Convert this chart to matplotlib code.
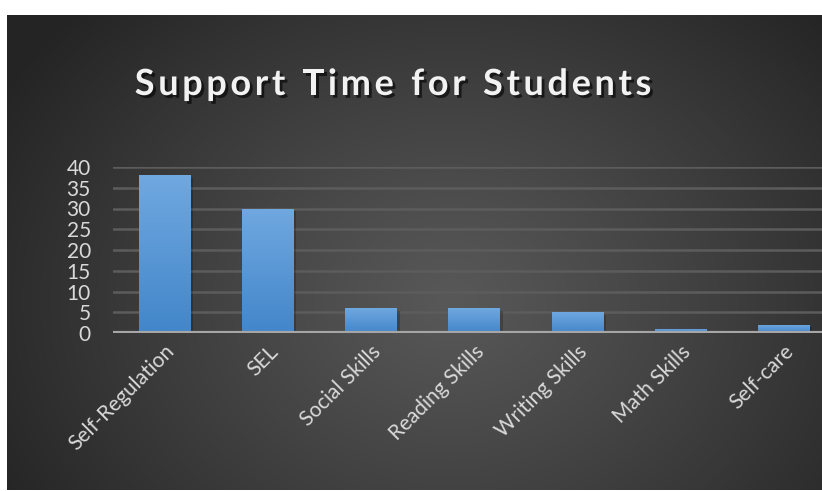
import numpy as np
import matplotlib
matplotlib.use("Agg")
import matplotlib.pyplot as plt
import matplotlib.patheffects as pe

categories = ["Self-Regulation", "SEL", "Social Skills", "Reading Skills",
              "Writing Skills", "Math Skills", "Self-care"]
values = [38, 30, 6, 6, 5, 1, 2]
yticks = [0, 5, 10, 15, 20, 25, 30, 35, 40]
title = "Support Time for Students"

W, H = 822, 491
fig = plt.figure(figsize=(W / 100, H / 100), dpi=100)
fig.patch.set_facecolor("white")

# dark radial-gradient background panel
bx0, by0, bx1, by1 = 7, 15, 822, 490
bg = fig.add_axes([bx0 / W, 1 - by1 / H, (bx1 - bx0) / W, (by1 - by0) / H])
bg.set_axis_off()
yy, xx = np.mgrid[by0:by1, bx0:bx1]
cx, cy = 450, 300
r = np.sqrt(((xx - cx) / 520.0) ** 2 + ((yy - cy) / 420.0) ** 2)
v = 88 - (88 - 36) * np.clip(r, 0, 1) ** 1.1
img = np.dstack([v, v, v]) / 255.0
bg.imshow(img, aspect="auto", extent=[0, 1, 0, 1], origin="upper")
bg.set_xlim(0, 1)
bg.set_ylim(0, 1)

# plot axes
left_px, base_px, top_px = 113, 333, 167
step = 103.2
ax = fig.add_axes([left_px / W, 1 - base_px / H, 7 * step / W, (base_px - top_px) / H])
ax.set_facecolor("none")

x = np.arange(len(categories))
bars = ax.bar(x, values, width=0.5, color="#5b9bd5", zorder=3,
              path_effects=[pe.SimplePatchShadow(offset=(2, -2), shadow_rgbFace="black", alpha=0.2),
                            pe.Normal()])
grad = np.linspace(0, 1, 256).reshape(-1, 1)
top_c = np.array([112, 168, 224]) / 255.0
bot_c = np.array([66, 134, 202]) / 255.0
gimg = top_c[None, None, :] * (1 - grad[:, :, None]) + bot_c[None, None, :] * grad[:, :, None]
for b in bars:
    im = ax.imshow(gimg, extent=[b.get_x(), b.get_x() + b.get_width(), 0, b.get_height()],
                   aspect="auto", origin="upper", zorder=4)
    im.set_clip_path(b)
ax.set_xlim(-0.5, len(categories) - 0.5)
ax.set_ylim(0, 40)

for t in yticks[1:]:
    ax.axhline(t, color="#5c5c5c", lw=1.8, zorder=1)
ax.axhline(0, color="#a6a6a6", lw=3, zorder=5)

for s in ax.spines.values():
    s.set_visible(False)
ax.set_yticks(yticks)
ax.set_xticks(x)
ax.set_xticklabels(categories, rotation=45, ha="right", rotation_mode="anchor",
                   fontsize=15, color="#d9d9d9", family="Lato")
ax.set_yticklabels([str(t) for t in yticks], fontsize=15, color="#d9d9d9", family="Lato")
ax.tick_params(axis="both", length=0)
ax.tick_params(axis="y", pad=16)
ax.tick_params(axis="x", pad=6)

# title with letter spacing, drawn char by char
fig.canvas.draw()
renderer = fig.canvas.get_renderer()
fs = 26
spacing = 3.6  # extra px between letters
shadow = [pe.withSimplePatchShadow(offset=(2, -2), shadow_rgbFace="black", alpha=0.6)]
widths = []
for ch in title:
    t = fig.text(0, 0, ch if ch != " " else "n", fontsize=fs, fontweight="bold", family="Lato")
    wpx = t.get_window_extent(renderer).width
    if ch == " ":
        wpx *= 0.5
    widths.append(wpx)
    t.remove()
total = sum(widths) + spacing * (len(title) - 1)
xc = 393
xpos = xc - total / 2
for ch, wpx in zip(title, widths):
    if ch != " ":
        fig.text(xpos / W, 1 - 95 / H, ch, ha="left", va="baseline", fontsize=fs,
                 fontweight="bold", color="#f2f2f2", family="Lato", path_effects=shadow)
    xpos += wpx + spacing

fig.savefig("out.png", dpi=100, facecolor=fig.get_facecolor())
